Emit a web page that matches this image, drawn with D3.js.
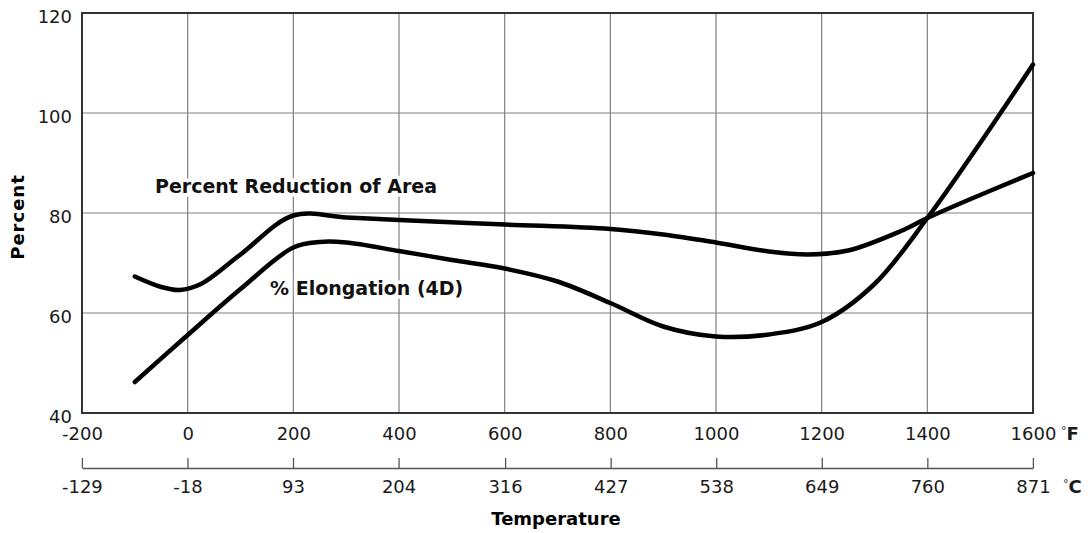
<!DOCTYPE html>
<html>
<head>
<meta charset="utf-8">
<script src="https://cdn.jsdelivr.net/npm/d3@7"></script>
<style>
  body { margin: 0; background: #fff; }
  svg { display: block; font-family: "DejaVu Sans", sans-serif; }
</style>
</head>
<body>
<svg id="chart"></svg>
<script>
// temperature in degrees F, percent
var reductionF = [-100, -50, -15, 25, 100, 200, 300, 400, 600, 800, 900, 1000, 1100, 1175, 1250, 1350, 1400, 1500, 1600];
var reductionPct = [67.3, 65.2, 64.6, 65.8, 71.7, 79.5, 79.1, 78.6, 77.7, 76.8, 75.7, 74.1, 72.3, 71.7, 72.5, 76.4, 79, 83.6, 88];

var elongationF = [-100, 0, 100, 200, 250, 300, 400, 500, 600, 700, 800, 900, 1000, 1100, 1200, 1300, 1400, 1500, 1600];
var elongationPct = [46.2, 55.6, 64.8, 73.1, 74.2, 74.1, 72.4, 70.6, 68.9, 66.3, 62, 57.3, 55.3, 55.7, 58.2, 65.8, 79, 94, 109.7];

var fTicks = [-200, 0, 200, 400, 600, 800, 1000, 1200, 1400, 1600];
var cTicks = [-129, -18, 93, 204, 316, 427, 538, 649, 760, 871];
var yTicks = [40, 60, 80, 100, 120];

var width = 1088, height = 533;
// plot box (note: "top" is taken by window.top)
var plotLeft = 82, plotRight = 1033, plotTop = 13, plotBottom = 413;

var svg = d3.select("#chart")
  .attr("width", width)
  .attr("height", height);

// scales
var x = d3.scaleLinear().domain([-200, 1600]).range([plotLeft, plotRight]);
var xc = d3.scaleLinear()
  .domain([(-200 - 32) * 5 / 9, (1600 - 32) * 5 / 9])
  .range([plotLeft, plotRight]);
var y = d3.scaleLinear().domain([40, 120]).range([plotBottom, plotTop]);

// grid
var grid = svg.append("g").attr("stroke", "#808080").attr("stroke-width", 1.2);
grid.selectAll("line.v")
  .data(fTicks.slice(1, -1))
  .enter().append("line")
  .attr("x1", d => x(d)).attr("x2", d => x(d))
  .attr("y1", plotTop).attr("y2", plotBottom);
grid.selectAll("line.h")
  .data(yTicks.slice(1, -1))
  .enter().append("line")
  .attr("x1", plotLeft).attr("x2", plotRight)
  .attr("y1", d => y(d)).attr("y2", d => y(d));

// frame
svg.append("rect")
  .attr("x", plotLeft).attr("y", plotTop)
  .attr("width", plotRight - plotLeft).attr("height", plotBottom - plotTop)
  .attr("fill", "none").attr("stroke", "#333").attr("stroke-width", 2);

// curve labels, white halo breaks the grid behind them
var labels = svg.append("g")
  .attr("font-weight", "bold")
  .attr("font-size", 19)
  .attr("fill", "#111")
  .attr("stroke", "#fff")
  .attr("stroke-width", 7)
  .attr("paint-order", "stroke");
labels.append("text").attr("x", 155).attr("y", 193).text("Percent Reduction of Area");
labels.append("text").attr("x", 270).attr("y", 295).text("% Elongation (4D)");

// curves
var line = d3.line()
  .x(d => x(d[0]))
  .y(d => y(d[1]))
  .curve(d3.curveCatmullRom.alpha(0.5));

var series = [d3.zip(reductionF, reductionPct), d3.zip(elongationF, elongationPct)];
svg.append("g")
  .selectAll("path")
  .data(series)
  .enter().append("path")
  .attr("d", line)
  .attr("fill", "none")
  .attr("stroke", "#000")
  .attr("stroke-width", 4.5)
  .attr("stroke-linecap", "round")
  .attr("stroke-linejoin", "round");

// axes
var plain = d => String(d);

var yAxis = svg.append("g")
  .attr("transform", "translate(" + plotLeft + ",0)")
  .call(d3.axisLeft(y).tickValues(yTicks).tickFormat(plain).tickSize(0).tickPadding(10));

var fAxis = svg.append("g")
  .attr("transform", "translate(0," + plotBottom + ")")
  .call(d3.axisBottom(x).tickValues(fTicks).tickFormat(plain).tickSize(0).tickPadding(14));

var cAxis = svg.append("g")
  .attr("transform", "translate(0,468)")
  .call(d3.axisBottom(xc).tickValues(cTicks).tickFormat(plain)
    .tickSizeInner(-10).tickSizeOuter(0).tickPadding(12));

[yAxis, fAxis].forEach(function(a) { a.select(".domain").remove(); });
cAxis.select(".domain").attr("stroke", "#555").attr("stroke-width", 1.3);
cAxis.selectAll(".tick line").attr("stroke", "#555").attr("stroke-width", 1.3);

[yAxis, fAxis, cAxis].forEach(function(a) {
  a.attr("font-family", "DejaVu Sans").attr("font-size", 18);
  a.selectAll("text").attr("fill", "#1a1a1a");
});
yAxis.selectAll("text").attr("dy", "0.55em");

// unit marks
var units = svg.append("g").attr("font-size", 18).attr("fill", "#1a1a1a");
var uf = units.append("text").attr("x", 1061).attr("y", 440);
uf.append("tspan").attr("font-size", 11).attr("dy", -6).text("°");
uf.append("tspan").attr("font-weight", "bold").attr("dy", 6).text("F");
var uc = units.append("text").attr("x", 1063).attr("y", 493);
uc.append("tspan").attr("font-size", 11).attr("dy", -6).text("°");
uc.append("tspan").attr("font-weight", "bold").attr("dy", 6).text("C");

// axis titles
svg.append("text")
  .attr("transform", "translate(24,217) rotate(-90)")
  .attr("text-anchor", "middle")
  .attr("font-weight", "bold")
  .attr("font-size", 18)
  .attr("letter-spacing", 1)
  .text("Percent");

svg.append("text")
  .attr("x", 556).attr("y", 525)
  .attr("text-anchor", "middle")
  .attr("font-weight", "bold")
  .attr("font-size", 18)
  .text("Temperature");
</script>
</body>
</html>
